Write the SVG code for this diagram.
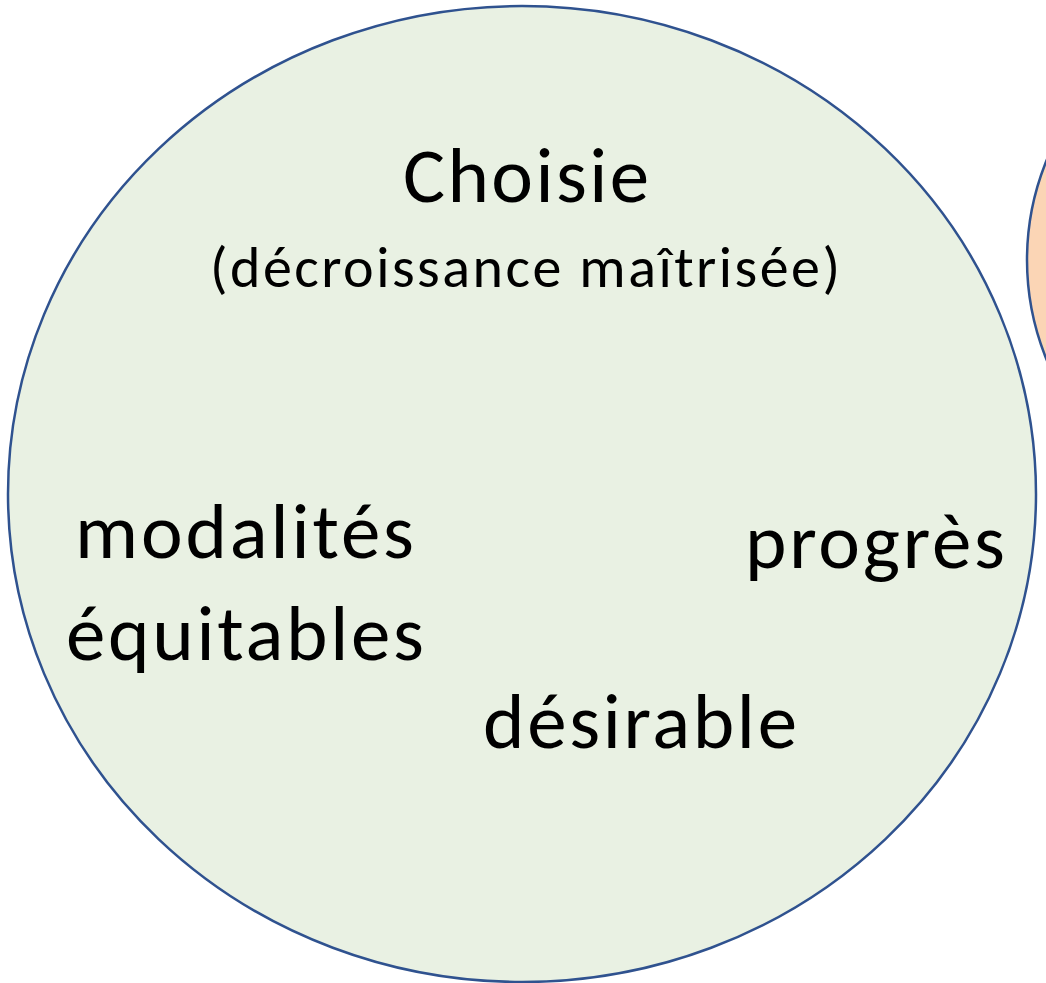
<svg xmlns="http://www.w3.org/2000/svg" width="1046" height="983" viewBox="0 0 1046 983">
<style>
.shape{stroke:#2F528F;stroke-width:2.5}
.t{font-family:Carlito,Lato,"Liberation Sans",sans-serif;fill:#000}
.big{font-size:79px}
.sub{font-size:58px}
</style>
<rect width="1046" height="983" fill="#FFFFFF"/>
<g id="node-orange">
<ellipse class="shape" cx="1288" cy="260" rx="261" ry="262" fill="#FBD5B5"/>
</g>
<g id="node-choisie">
<ellipse class="shape" cx="522" cy="494" rx="514" ry="488" fill="#E9F1E3"/>
<text class="t big" x="403" y="202" textLength="246">Choisie</text>
<text class="t sub" x="210" y="287" textLength="630">(décroissance maîtrisée)</text>
<text class="t big" x="75" y="558" textLength="339">modalités</text>
<text class="t big" x="66" y="660" textLength="358">équitables</text>
<text class="t big" x="745" y="568" textLength="260">progrès</text>
<text class="t big" x="483" y="748" textLength="314">désirable</text>
</g>
<g id="connectors"></g>
</svg>
